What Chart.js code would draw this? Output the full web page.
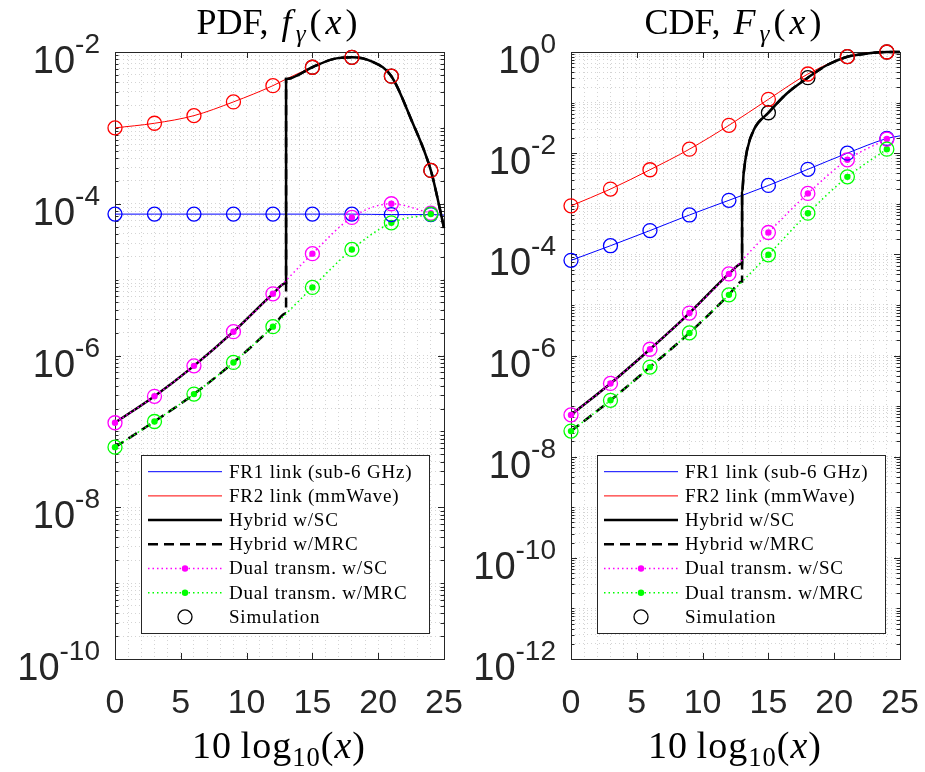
<!DOCTYPE html>
<html>
<head>
<meta charset="utf-8">
<script src="https://cdn.jsdelivr.net/npm/chart.js@4.4.0/dist/chart.umd.min.js"></script>
<style>
  body { margin: 0; background: #fff; }
  #wrap { position: relative; width: 925px; height: 772px; overflow: hidden; }
  canvas { position: absolute; top: 0; }
  .ttl { position: absolute; width: 300px; text-align: center; white-space: nowrap;
         font-family: "Liberation Serif", serif; color: #000; line-height: 1; }
  .ttl sub { font-size: 0.7em; line-height: 0; vertical-align: -0.3em; }
  .ttl .m { letter-spacing: 4px; margin-left: 13px; }
  .xl { letter-spacing: 1px; }
</style>
</head>
<body>
<div id="wrap">
  <canvas id="pdf" width="462" height="772" style="left:0"></canvas>
  <canvas id="cdf" width="463" height="772" style="left:462px"></canvas>
  <div class="ttl" style="left:129px;top:4px;font-size:36px">PDF,<span class="m"><i>f</i><sub><i>γ</i></sub>(<i>x</i>)</span></div>
  <div class="ttl" style="left:585px;top:4px;font-size:36px">CDF,<span class="m"><i>F</i><sub><i>γ</i></sub>(<i>x</i>)</span></div>
  <div class="ttl xl" style="left:129px;top:726px;font-size:38px">10&thinsp;log<sub>10</sub>(<i>x</i>)</div>
  <div class="ttl xl" style="left:585px;top:726px;font-size:38px">10&thinsp;log<sub>10</sub>(<i>x</i>)</div>
</div>
<script>
// ---- data ----
const simX = [0, 3, 6, 9, 12, 15, 18, 21, 24];
const xTicks = [0, 5, 10, 15, 20, 25];
const pdfYExp = [-2, -4, -6, -8, -10];
const cdfYExp = [0, -2, -4, -6, -8, -10, -12];
const legendLabels = ['FR1 link (sub-6 GHz)', 'FR2 link (mmWave)', 'Hybrid w/SC', 'Hybrid w/MRC',
                      'Dual transm. w/SC', 'Dual transm. w/MRC', 'Simulation'];

// PDF panel
const pdfFr1X = [0, 3, 6, 9, 12, 15, 18, 21, 24, 25];
const pdfFr1 = [7.3e-5, 7.3e-5, 7.3e-5, 7.3e-5, 7.3e-5, 7.3e-5, 7.3e-5, 7.2e-5, 7.2e-5, 7.1e-5];
const pdfFr2X = [0, 3, 6, 9, 12, 13, 15, 16.5, 18, 19.5, 21, 22.5, 24, 24.5, 25];
const pdfFr2 = [1.0e-3, 1.15e-3, 1.45e-3, 2.2e-3, 3.6e-3, 4.4e-3, 6.3e-3, 8.0e-3, 8.5e-3, 7.5e-3, 4.8e-3, 1.3e-3, 2.75e-4, 1.2e-4, 4.8e-5];
const pdfHybX = [0, 3, 6, 9, 12, 13, 13, 15, 16.5, 18, 19.5, 21, 22.5, 24, 24.5, 25];
const pdfHybSC = [1.3e-7, 2.9e-7, 7.3e-7, 2.06e-6, 6.5e-6, 9.0e-6, 4.4e-3, 6.3e-3, 8.0e-3, 8.5e-3, 7.5e-3, 4.8e-3, 1.3e-3, 2.75e-4, 1.2e-4, 4.8e-5];
const pdfHybMRC = [6.2e-8, 1.35e-7, 3.1e-7, 8.1e-7, 2.4e-6, 3.6e-6, 4.4e-3, 6.3e-3, 8.0e-3, 8.5e-3, 7.5e-3, 4.8e-3, 1.3e-3, 2.75e-4, 1.2e-4, 4.8e-5];
const pdfDualSC = [1.3e-7, 2.9e-7, 7.3e-7, 2.06e-6, 6.5e-6, 2.2e-5, 6.6e-5, 1.0e-4, 7.5e-5];
const pdfDualMRC = [6.2e-8, 1.35e-7, 3.1e-7, 8.1e-7, 2.4e-6, 7.9e-6, 2.5e-5, 5.6e-5, 7.3e-5];
const pdfSimFr1 = [7.3e-5, 7.3e-5, 7.3e-5, 7.3e-5, 7.3e-5, 7.3e-5, 7.3e-5, 7.2e-5, 7.2e-5];
const pdfSimFr2 = [1.0e-3, 1.15e-3, 1.45e-3, 2.2e-3, 3.6e-3, 6.3e-3, 8.5e-3, 4.8e-3, 2.75e-4];
const pdfSimHybX = [15, 18, 21, 24];
const pdfSimHyb = [6.3e-3, 8.5e-3, 4.8e-3, 2.75e-4];

// CDF panel
const cdfFr1X = [0, 3, 6, 9, 12, 15, 18, 21, 24, 25];
const cdfFr1 = [7.6e-5, 1.48e-4, 2.95e-4, 6.0e-4, 1.17e-3, 2.3e-3, 4.8e-3, 1.0e-2, 1.95e-2, 2.2e-2];
const cdfFr2X = [0, 3, 6, 9, 12, 15, 18, 21, 24, 25];
const cdfFr2 = [9.1e-4, 1.95e-3, 4.7e-3, 1.2e-2, 3.55e-2, 0.116, 0.367, 0.81, 1.0, 1.0];
const cdfHybX = [0, 3, 6, 9, 12, 13, 13, 13.12, 13.38, 13.89, 15, 16.4, 18, 19.47, 21, 22.5, 24, 25];
const cdfHybSC = [6.7e-8, 2.8e-7, 1.33e-6, 6.9e-6, 4.1e-5, 6.6e-5, 1.62e-3, 3.98e-3, 1.15e-2, 2.9e-2, 6.3e-2, 0.151, 0.311, 0.553, 0.807, 0.933, 1.0, 1.0];
const cdfHybMRC = [3.2e-8, 1.3e-7, 5.9e-7, 2.8e-6, 1.58e-5, 2.9e-5, 1.62e-3, 3.98e-3, 1.15e-2, 2.9e-2, 6.3e-2, 0.151, 0.311, 0.553, 0.807, 0.933, 1.0, 1.0];
const cdfDualSC = [6.7e-8, 2.8e-7, 1.33e-6, 6.9e-6, 4.1e-5, 2.7e-4, 1.6e-3, 7.4e-3, 1.9e-2];
const cdfDualMRC = [3.2e-8, 1.3e-7, 5.9e-7, 2.8e-6, 1.58e-5, 9.8e-5, 6.5e-4, 3.4e-3, 1.2e-2];
const cdfSimFr1 = [7.6e-5, 1.48e-4, 2.95e-4, 6.0e-4, 1.17e-3, 2.3e-3, 4.8e-3, 1.0e-2, 1.95e-2];
const cdfSimFr2 = [9.1e-4, 1.95e-3, 4.7e-3, 1.2e-2, 3.55e-2, 0.116, 0.367, 0.81, 1.0];
const cdfSimHybX = [15, 18, 21, 24];
const cdfSimHyb = [6.3e-2, 0.311, 0.807, 1.0];

// ---- styles ----
const BLUE = '#0000ff', RED = '#ff0000', BLACK = '#000000', MAG = '#ff00ff', GREEN = '#00ff00';
const AXC = '#262626';
const GRIDC = 'rgba(38,38,38,0.2)';
const DOTTED = [1.5, 3];
const DASHED = [10, 6];

function pts(xs, ys) { return xs.map((x, i) => ({ x: x, y: ys[i] })); }

function lineSet(label, xs, ys, color, width, dash, order) {
  return { label, data: pts(xs, ys), showLine: true, borderColor: color, backgroundColor: color,
    borderWidth: width, borderDash: dash, pointRadius: 0, cubicInterpolationMode: 'monotone',
    clip: false, order };
}
function dualSet(label, ys, color, order) {
  return { label, data: pts(simX, ys), showLine: true, borderColor: color, backgroundColor: color,
    borderWidth: 1.5, borderDash: DOTTED, pointRadius: 3.2, pointBorderWidth: 0,
    pointBackgroundColor: color, cubicInterpolationMode: 'monotone', clip: false, order };
}
function simSet(xs, ys, color, order) {
  return { label: 'Simulation', data: pts(xs, ys), showLine: false, pointStyle: 'circle',
    pointRadius: 7, pointBorderWidth: 1.3, pointBorderColor: color,
    pointBackgroundColor: 'rgba(0,0,0,0)', clip: false, order };
}

const legendStyle = [
  { color: BLUE, width: 1, dash: [] },
  { color: RED, width: 1, dash: [] },
  { color: BLACK, width: 2.5, dash: [] },
  { color: BLACK, width: 2.5, dash: DASHED },
  { color: MAG, width: 1.5, dash: DOTTED, dot: true },
  { color: GREEN, width: 1.5, dash: DOTTED, dot: true },
  { color: BLACK, circle: true }
];

function decadeVals(loExp, hiExp) {
  const v = [];
  for (let e = loExp; e < hiExp; e++) for (let m = 1; m < 10; m++) v.push(m * Math.pow(10, e));
  v.push(Math.pow(10, hiExp));
  return v;
}

const axesPlugin = {
  id: 'matlabAxes',
  beforeDatasetsDraw(chart, args, opts) {
    const { ctx, chartArea: a, scales: { x, y } } = chart;
    ctx.save();
    ctx.strokeStyle = AXC;
    ctx.lineWidth = 1;
    ctx.beginPath();
    // inward ticks on x
    xTicks.forEach(v => {
      const px = Math.round(x.getPixelForValue(v)) + 0.5;
      ctx.moveTo(px, a.bottom); ctx.lineTo(px, a.bottom - 6);
      ctx.moveTo(px, a.top); ctx.lineTo(px, a.top + 6);
    });
    // inward ticks on y
    y.ticks.forEach(t => {
      const e = Math.log10(t.value);
      const major = Math.abs(e - Math.round(e)) < 1e-6 && opts.yExp.includes(Math.round(e));
      const len = major ? 6 : 3.5;
      const py = Math.round(y.getPixelForValue(t.value)) + 0.5;
      ctx.moveTo(a.left, py); ctx.lineTo(a.left + len, py);
      ctx.moveTo(a.right, py); ctx.lineTo(a.right - len, py);
    });
    ctx.stroke();
    ctx.strokeRect(Math.round(a.left) + 0.5, Math.round(a.top) + 0.5,
      Math.round(a.right - a.left), Math.round(a.bottom - a.top));
    ctx.restore();
  },
  afterDraw(chart, args, opts) {
    const { ctx, chartArea: a, scales: { x, y } } = chart;
    ctx.save();
    ctx.fillStyle = AXC;
    // x tick labels
    ctx.font = '34px "Liberation Sans", Arial, sans-serif';
    ctx.textAlign = 'center';
    ctx.textBaseline = 'alphabetic';
    xTicks.forEach(v => ctx.fillText(String(v), x.getPixelForValue(v), a.bottom + 54));
    // y tick labels 10^k
    ctx.textAlign = 'right';
    opts.yExp.forEach(e => {
      const py = y.getPixelForValue(Math.pow(10, e));
      const sup = String(e);
      ctx.font = '28px "Liberation Sans", Arial, sans-serif';
      const sw = ctx.measureText(sup).width;
      ctx.fillText(sup, a.left - 15, py + 1);
      ctx.font = '38px "Liberation Sans", Arial, sans-serif';
      ctx.fillText('10', a.left - 15 - sw, py + 21);
    });
    // legend box
    const bl = a.left + 26, bb = a.bottom - 26, bw = 288, bh = 178, bt = bb - bh;
    ctx.fillStyle = '#ffffff';
    ctx.fillRect(bl, bt, bw, bh);
    ctx.strokeStyle = AXC;
    ctx.lineWidth = 1;
    ctx.strokeRect(Math.round(bl) + 0.5, Math.round(bt) + 0.5, bw, bh);
    ctx.font = '19px "Liberation Serif", serif';
    ctx.letterSpacing = '0.8px';
    ctx.textAlign = 'left';
    ctx.textBaseline = 'middle';
    legendLabels.forEach((lab, i) => {
      const cy = bt + 16.7 + i * 24.2;
      const s = legendStyle[i];
      const x0 = bl + 7, x1 = bl + 81, xc = bl + 44;
      if (s.circle) {
        ctx.strokeStyle = s.color; ctx.lineWidth = 1.3; ctx.setLineDash([]);
        ctx.beginPath(); ctx.arc(xc, cy, 7, 0, Math.PI * 2); ctx.stroke();
      } else {
        ctx.strokeStyle = s.color; ctx.lineWidth = s.width; ctx.setLineDash(s.dash);
        ctx.beginPath(); ctx.moveTo(x0, cy); ctx.lineTo(x1, cy); ctx.stroke();
        ctx.setLineDash([]);
        if (s.dot) {
          ctx.fillStyle = s.color;
          ctx.beginPath(); ctx.arc(xc, cy, 3.2, 0, Math.PI * 2); ctx.fill();
        }
      }
      ctx.fillStyle = '#000';
      ctx.fillText(lab, bl + 88, cy + 1);
    });
    ctx.restore();
  }
};

function makeChart(id, padLeft, padRight, yMinExp, yMaxExp, yExp, sets) {
  const gridVals = [];
  for (let v = 0; v <= 25; v++) gridVals.push(v);
  return new Chart(document.getElementById(id), {
    type: 'scatter',
    data: { datasets: sets },
    plugins: [axesPlugin],
    options: {
      responsive: false,
      animation: false,
      events: [],
      layout: { padding: { left: padLeft, right: padRight, top: 52, bottom: 113 } },
      plugins: { legend: { display: false }, tooltip: { enabled: false }, matlabAxes: { yExp } },
      scales: {
        x: {
          type: 'linear', min: 0, max: 25,
          afterBuildTicks: s => { s.ticks = gridVals.map(v => ({ value: v })); },
          ticks: { display: false },
          grid: { color: GRIDC, lineWidth: 1, drawTicks: false },
          border: { display: false, dash: [1, 3] }
        },
        y: {
          type: 'logarithmic', min: Math.pow(10, yMinExp), max: Math.pow(10, yMaxExp),
          afterBuildTicks: s => { s.ticks = decadeVals(yMinExp, yMaxExp).map(v => ({ value: v })); },
          ticks: { display: false },
          grid: { color: GRIDC, lineWidth: 1, drawTicks: false },
          border: { display: false, dash: [1, 3] }
        }
      }
    }
  });
}

makeChart('pdf', 115, 18, -10, -2, pdfYExp, [
  lineSet('FR1 link (sub-6 GHz)', pdfFr1X, pdfFr1, BLUE, 1, [], 10),
  lineSet('FR2 link (mmWave)', pdfFr2X, pdfFr2, RED, 1, [], 9),
  lineSet('Hybrid w/SC', pdfHybX, pdfHybSC, BLACK, 2.5, [], 8),
  lineSet('Hybrid w/MRC', pdfHybX, pdfHybMRC, BLACK, 2.5, DASHED, 7),
  dualSet('Dual transm. w/SC', pdfDualSC, MAG, 6),
  dualSet('Dual transm. w/MRC', pdfDualMRC, GREEN, 5),
  simSet(pdfSimHybX, pdfSimHyb, BLACK, 4),
  simSet(simX, pdfSimFr1, BLUE, 3),
  simSet(simX, pdfSimFr2, RED, 2),
  simSet(simX, pdfDualSC, MAG, 1),
  simSet(simX, pdfDualMRC, GREEN, 0)
]);

makeChart('cdf', 109, 25, -12, 0, cdfYExp, [
  lineSet('FR1 link (sub-6 GHz)', cdfFr1X, cdfFr1, BLUE, 1, [], 10),
  lineSet('FR2 link (mmWave)', cdfFr2X, cdfFr2, RED, 1, [], 9),
  lineSet('Hybrid w/SC', cdfHybX, cdfHybSC, BLACK, 2.5, [], 8),
  lineSet('Hybrid w/MRC', cdfHybX, cdfHybMRC, BLACK, 2.5, DASHED, 7),
  dualSet('Dual transm. w/SC', cdfDualSC, MAG, 6),
  dualSet('Dual transm. w/MRC', cdfDualMRC, GREEN, 5),
  simSet(cdfSimHybX, cdfSimHyb, BLACK, 4),
  simSet(simX, cdfSimFr1, BLUE, 3),
  simSet(simX, cdfSimFr2, RED, 2),
  simSet(simX, cdfDualSC, MAG, 1),
  simSet(simX, cdfDualMRC, GREEN, 0)
]);
</script>
</body>
</html>
